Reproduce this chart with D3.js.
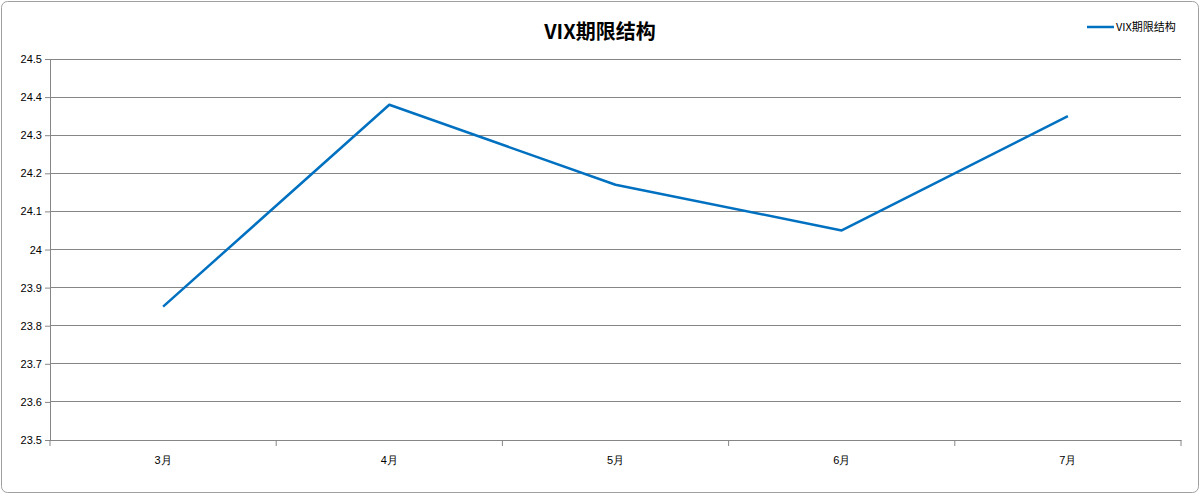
<!DOCTYPE html>
<html><head><meta charset="utf-8">
<script src="https://cdn.jsdelivr.net/npm/d3@7"></script>
<style>body{margin:0;background:#fff}svg{display:block;font-family:"Noto Sans CJK SC","Noto Sans",sans-serif}</style>
</head><body>
<svg id="c" width="1200" height="495"></svg>
<script>
const categories = ["3月","4月","5月","6月","7月"];
const values = [23.85, 24.38, 24.17, 24.05, 24.35];
const yTicks = [23.5,23.6,23.7,23.8,23.9,24,24.1,24.2,24.3,24.4,24.5];
const seriesName = "VIX期限结构";

const svg = d3.select("#c");
svg.append("rect").attr("x",1.5).attr("y",1.5).attr("width",1197).attr("height",491).attr("rx",6)
  .attr("fill","#fff").attr("stroke","#a0a0a0");
const L=50,R=1181,T=59,B=440;
const x = d3.scaleBand().domain(categories).range([L,R]);
const y = d3.scaleLinear().domain([23.5,24.5]).range([B,T]);

svg.append("g").selectAll("line").data(yTicks).join("line")
  .attr("x1",L).attr("x2",R).attr("y1",d=>y(d)).attr("y2",d=>y(d))
  .attr("stroke","#868686").attr("stroke-width",1).attr("shape-rendering","crispEdges");

const ya = svg.append("g").attr("transform",`translate(${L},0)`)
  .call(d3.axisLeft(y).tickValues(yTicks).tickSize(5).tickFormat(d=>String(+d.toFixed(1))));
ya.select(".domain").attr("stroke","#868686");
ya.selectAll("line").attr("stroke","#868686");
ya.selectAll("text").attr("font-size",11).attr("fill","#000").attr("font-family","Liberation Sans, Arial");

const xa = svg.append("g").attr("transform",`translate(0,${B})`)
  .call(d3.axisBottom(x).tickSize(0).tickPadding(16));
xa.select(".domain").attr("stroke","#868686");
xa.selectAll("text").attr("font-size",11).attr("fill","#000");
const bounds = categories.map(c=>x(c)).concat([x(categories[categories.length-1])+x.bandwidth()]);
svg.append("g").selectAll("line").data(bounds).join("line")
  .attr("x1",d=>d).attr("x2",d=>d).attr("y1",B).attr("y2",B+6).attr("stroke","#868686");

const line = d3.line().x((d,i)=>x(categories[i])+x.bandwidth()/2).y(d=>y(d));
svg.append("path").datum(values).attr("d",line).attr("fill","none")
  .attr("stroke","#0070C0").attr("stroke-width",2.5).attr("stroke-linejoin","round");

svg.append("text").attr("x",600).attr("y",39).attr("text-anchor","middle")
  .attr("font-size",20).attr("font-weight","bold").text(seriesName);
svg.append("line").attr("x1",1087).attr("x2",1114).attr("y1",27).attr("y2",27)
  .attr("stroke","#0070C0").attr("stroke-width",2.5);
svg.append("text").attr("x",1116).attr("y",31).attr("font-size",11).text(seriesName);
</script>
</body></html>
